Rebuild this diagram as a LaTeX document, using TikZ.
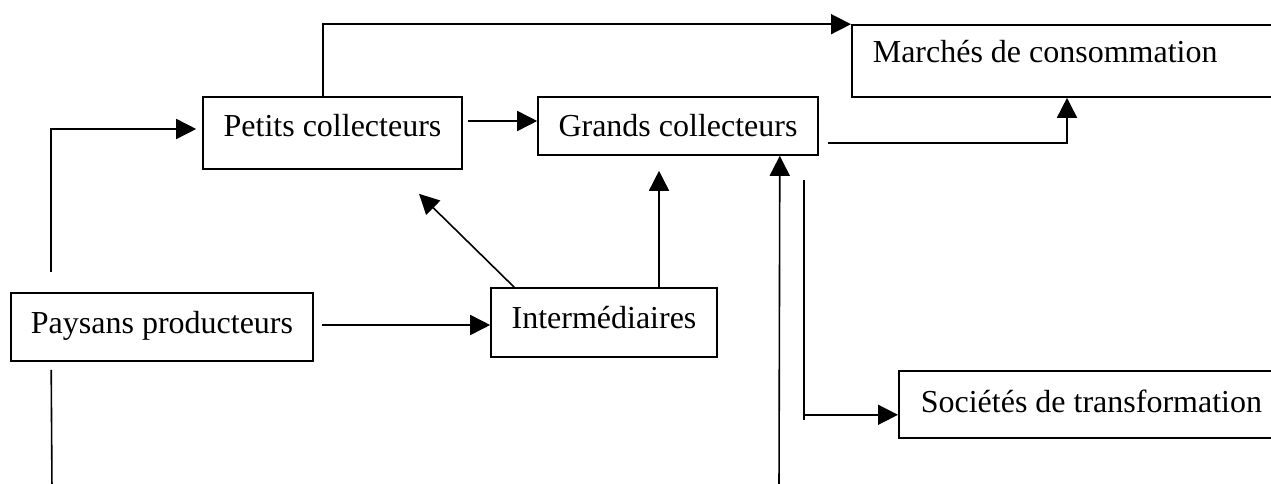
\documentclass[tikz,border=0pt]{standalone}
\usepackage{fontspec}
\setmainfont{Liberation Serif}
\usetikzlibrary{arrows.meta}
\tikzset{
  box/.style={draw, line width=1.6pt, inner sep=0pt, text depth=0pt,
    font=\fontsize{32}{38}\selectfont},
  conn/.style={line width=1.6pt},
  arr/.style={conn, -{Triangle[length=20pt,width=20pt]}}
}
\begin{document}
\begin{tikzpicture}[x=1pt,y=-1pt]
\clip (0,0) rectangle (1271,484);
% boxes
\node[box, minimum width=259pt, minimum height=72pt, text height=8pt] (pc) at (332.5,133) {Petits collecteurs};
\node[box, minimum width=280pt, minimum height=58pt, text height=22pt] (gc) at (678,126) {Grands collecteurs};
\node[box, anchor=west, minimum height=72pt, text height=4pt, inner xsep=21pt] (mc) at (851,61) {\makebox[420pt][l]{Marchés de consommation}};
\node[box, minimum width=302pt, minimum height=68pt, text height=12pt] (pp) at (162,327) {Paysans producteurs};
\node[box, minimum width=226pt, minimum height=69pt, text height=11pt] (im) at (604,322.5) {Intermédiaires};
\node[box, anchor=west, minimum height=67pt, text height=15pt, inner xsep=22pt] (st) at (898,404.5) {\makebox[420pt][l]{Sociétés de transformation}};
% free ends
\coordinate (bl) at (52,490);
\coordinate (bm) at (779,490);
\coordinate (sj) at ([shift={(-15,259)}]gc.south east);
% connectors
\draw[arr] ([shift={(41,-20)}]pp.north west) |- ([shift={(-6,-4)}]pc.west);
\draw[conn] ([shift={(41,8)}]pp.south west) -- (bl);
\draw[arr] ([shift={(8,-2)}]pp.east) -- ([shift={(0,2.5)}]im.west);
\draw[arr] ([shift={(-9.5,0)}]pc.north) |- (mc.north west);
\draw[arr] ([shift={(5,-12)}]pc.east) -- ([shift={(0,-12)}]pc.east -| gc.west);
\draw[arr] ([shift={(9,17)}]gc.east) -| ([shift={(216,0)}]mc.south west);
\draw[arr] ([shift={(55,0)}]im.north) -- ([shift={(-19,15)}]gc.south);
\draw[arr] ([shift={(24,0)}]im.north west) -- ([shift={(86.5,24)}]pc.south);
\draw[arr] (bm) -- ([shift={(-39,0)}]gc.south east);
\draw[conn] ([shift={(-15,24)}]gc.south east) -- ++(0,240);
\draw[arr] (sj) -- (sj -| st.west);
\end{tikzpicture}
\end{document}
